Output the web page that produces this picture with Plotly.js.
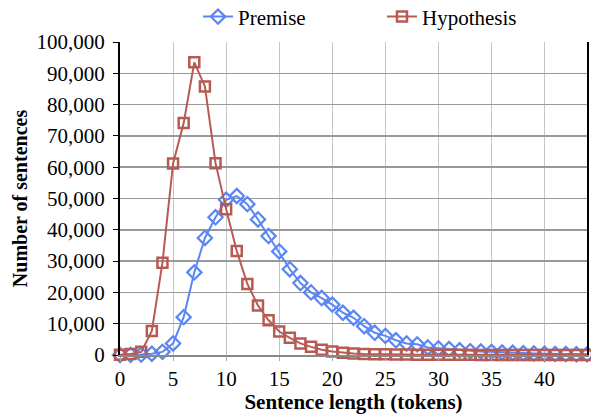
<!DOCTYPE html>
<html>
<head>
<meta charset="utf-8">
<script src="https://cdn.plot.ly/plotly-3.0.1.min.js"></script>
<style>html,body{margin:0;padding:0;background:#fff;}#chart{width:591px;height:414px;}</style>
</head>
<body>
<div id="chart"></div>
<script>
const lengths = [0,1,2,3,4,5,6,7,8,9,10,11,12,13,14,15,16,17,18,19,20,21,22,23,24,25,26,27,28,29,30,31,32,33,34,35,36,37,38,39,40,41,42,43,44];
const premise = [0,50,150,400,1000,3700,12100,26400,37400,44000,49600,50800,48200,43300,38000,33100,27400,23000,20000,18200,16100,13500,11900,9200,7100,6100,4700,3700,3400,2400,2100,1900,1500,1200,1100,1000,800,700,600,500,400,350,300,250,200];
const hypothesis = [100,300,1000,7700,29500,61200,74100,93500,85800,61300,46600,33200,22700,15800,11100,7500,5500,3700,2600,1700,1100,700,500,350,250,200,150,120,100,80,70,60,50,40,30,30,20,20,10,10,10,10,10,10,10];
const seriesNames = ["Premise","Hypothesis"];
const xTicks = [0,5,10,15,20,25,30,35,40];
const yTicks = [0,10000,20000,30000,40000,50000,60000,70000,80000,90000,100000];

const FAM = "Liberation Serif";
const font = {family: FAM, color: "#000", size: 20};

const traces = [
  {x: lengths, y: premise, name: seriesNames[0], type: "scatter", mode: "lines+markers", cliponaxis: false,
   line: {color: "#5B86F2", width: 2},
   marker: {symbol: "diamond-open", size: 11, color: "#5B86F2", line: {width: 2.2}}},
  {x: lengths, y: hypothesis, name: seriesNames[1], type: "scatter", mode: "lines+markers", cliponaxis: false,
   line: {color: "#B85A53", width: 2},
   marker: {symbol: "square-open", size: 10, color: "#B85A53", line: {width: 2.5}}}
];

const layout = {
  width: 591, height: 414,
  margin: {l: 120, r: 4, t: 42, b: 59, autoexpand: false},
  paper_bgcolor: "#fff", plot_bgcolor: "#fff",
  font: font,
  showlegend: true,
  legend: {orientation: "h", x: 0.167, xanchor: "left", y: 1.08, yanchor: "middle",
           font: {family: FAM, size: 21, color: "#000"}, entrywidth: 139, entrywidthmode: "pixels",
           bgcolor: "rgba(0,0,0,0)"},
  xaxis: {range: [0, 44], tickmode: "array", tickvals: xTicks,
          showgrid: true, gridcolor: "#c4c4c4", gridwidth: 1,
          showline: true, linecolor: "#888", linewidth: 1.5,
          ticks: "outside", ticklen: 4, tickcolor: "#aaa",
          zeroline: false, tickfont: {family: FAM, size: 21, color: "#000"},
          title: {text: "<b>Sentence length (tokens)</b>", font: {family: FAM, size: 21, color: "#000"}, standoff: 4}},
  yaxis: {range: [0, 100000], tickmode: "array", tickvals: yTicks, tickformat: ",d",
          showgrid: true, gridcolor: "#999", gridwidth: 1.5,
          showline: true, linecolor: "#000", linewidth: 2, mirror: true,
          ticks: "outside", ticklen: 5, tickcolor: "#000", ticklabelstandoff: 4,
          zeroline: false, tickfont: {family: FAM, size: 21, color: "#000"},
          title: {text: "<b>Number of sentences</b>", font: {family: FAM, size: 20, color: "#000"}, standoff: 4}}
};

Plotly.newPlot("chart", traces, layout, {displayModeBar: false, staticPlot: true});
</script>
</body>
</html>
